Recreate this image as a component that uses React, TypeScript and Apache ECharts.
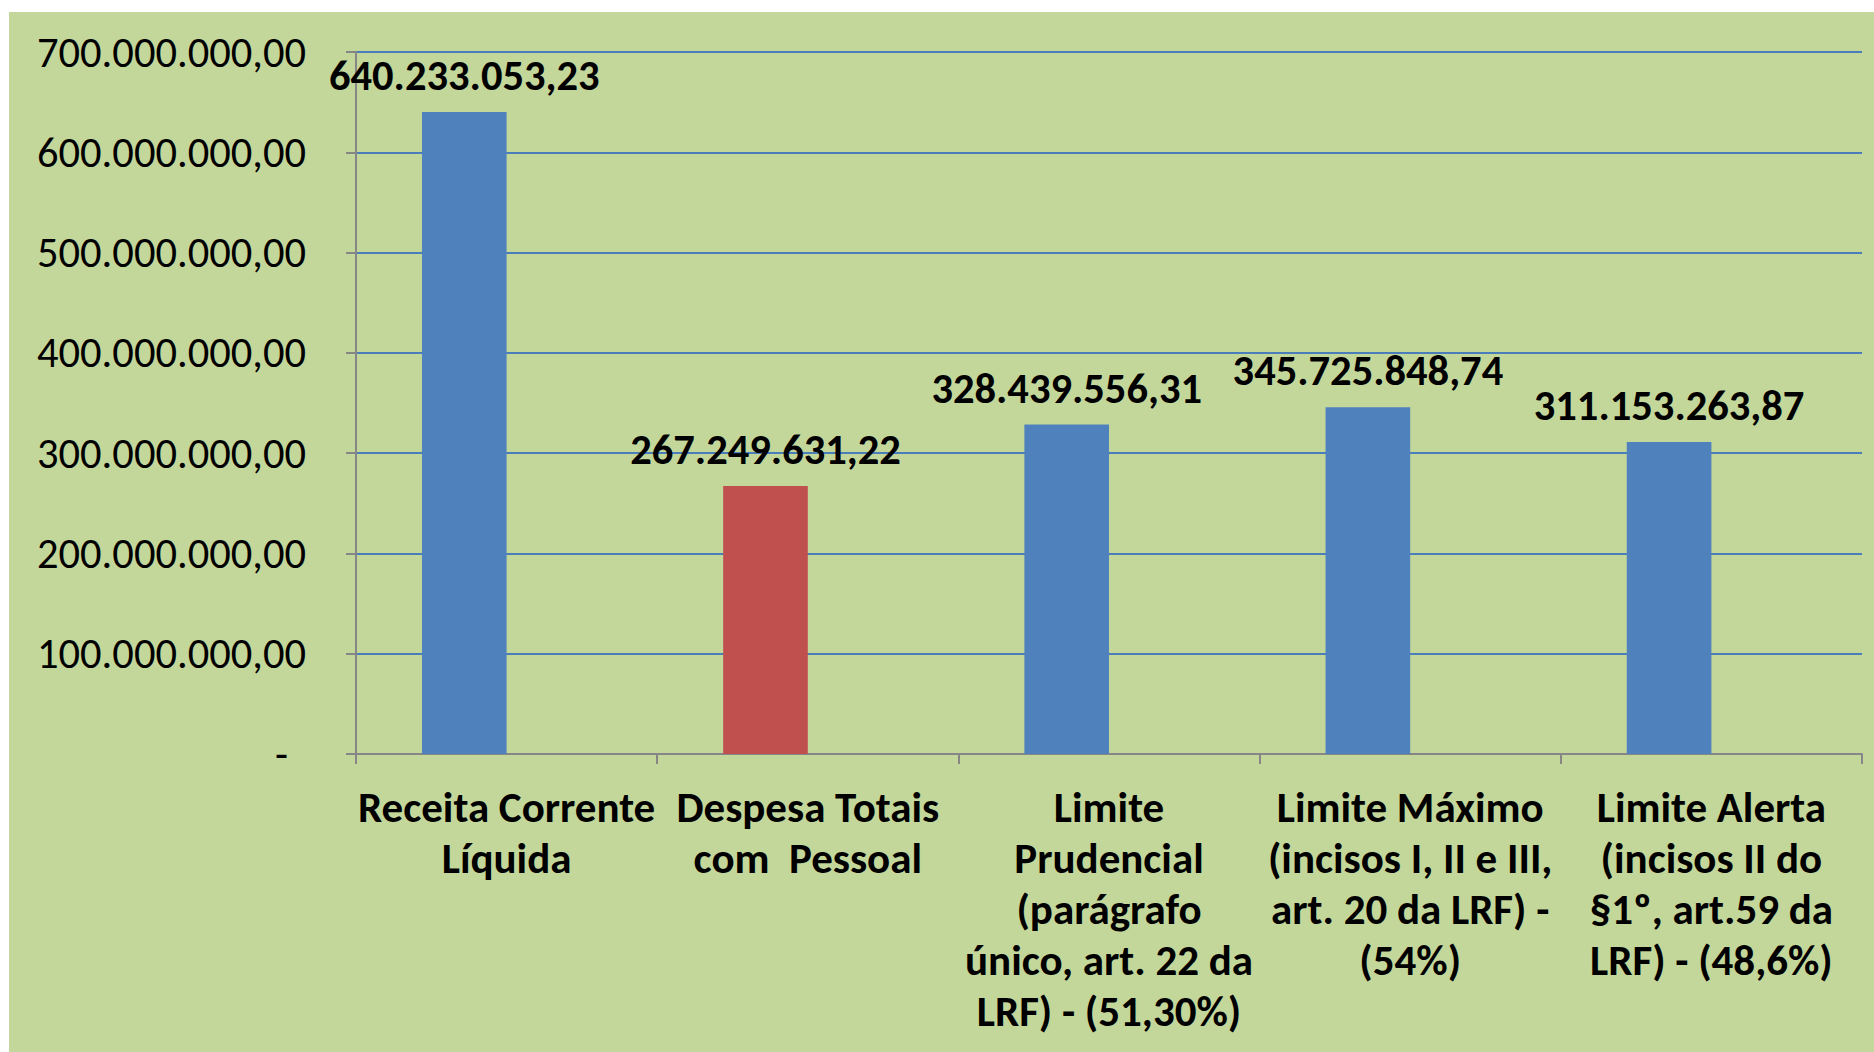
import React, { useEffect, useRef } from "react";
import * as echarts from "echarts";

const categories = [
  "Receita Corrente\nLíquida",
  "Despesa Totais\ncom  Pessoal",
  "Limite\nPrudencial\n(parágrafo\núnico, art. 22 da\nLRF) - (51,30%)",
  "Limite Máximo\n(incisos I, II e III,\nart. 20 da LRF) -\n(54%)",
  "Limite Alerta\n(incisos II do\n§1º, art.59 da\nLRF) - (48,6%)",
];
const values = [640233053.23, 267249631.22, 328439556.31, 345725848.74, 311153263.87];
const emptySeries = [null, null, null, null, null];
const barColors = ["#4F81BD", "#C0504D", "#4F81BD", "#4F81BD", "#4F81BD"];
const yMax = 700000000;
const yInterval = 100000000;

const FONT = "Carlito, 'Liberation Sans Narrow', 'DejaVu Sans Condensed', 'Open Sans', sans-serif";

function fmtBR(v: number): string {
  const [i, f] = Math.abs(v).toFixed(2).split(".");
  return i.replace(/\B(?=(\d{3})+(?!\d))/g, ".") + "," + f;
}

export default function App() {
  const ref = useRef<HTMLDivElement>(null);
  useEffect(() => {
    if (!ref.current) return;
    const chart = echarts.init(ref.current, undefined, { renderer: "svg" });
    chart.setOption({
      animation: false,
      backgroundColor: "#C4D79B",
      textStyle: { fontFamily: FONT },
      grid: { left: 347, right: 12, top: 40, bottom: 298, containLabel: false },
      xAxis: {
        type: "category",
        data: categories,
        axisLine: { lineStyle: { color: "#868686", width: 2 } },
        axisTick: { show: true, length: 10, lineStyle: { color: "#868686", width: 2 } },
        axisLabel: {
          interval: 0,
          margin: 28,
          color: "#000",
          fontWeight: "bold",
          fontSize: 43,
          lineHeight: 51,
          fontFamily: FONT,
        },
      },
      yAxis: {
        type: "value",
        min: 0,
        max: yMax,
        interval: yInterval,
        axisLine: { show: true, lineStyle: { color: "#868686", width: 2 } },
        axisTick: { show: true, length: 10, lineStyle: { color: "#868686", width: 2 } },
        splitLine: { show: true, lineStyle: { color: "#4A7EBB", width: 2 } },
        axisLabel: {
          margin: 50,
          color: "#000",
          fontSize: 42.5,
          fontFamily: FONT,
          formatter: (v: number) => (v === 0 ? "{d|-}" : fmtBR(v)),
          rich: { d: { fontSize: 42.5, color: "#000", padding: [0, 18, 0, 0], fontFamily: FONT } },
        },
      },
      series: [
        {
          type: "bar",
          data: values.map((v, i) => ({ value: v, itemStyle: { color: barColors[i] } })),
          barGap: "0%",
          barCategoryGap: "43.8%",
          label: {
            show: true,
            position: "top",
            distance: 15,
            color: "#000",
            fontWeight: "bold",
            fontSize: 42.5,
            fontFamily: FONT,
            formatter: (p: any) => fmtBR(p.value),
          },
        },
        {
          type: "bar",
          data: emptySeries,
          barGap: "0%",
          barCategoryGap: "43.8%",
        },
      ],
    });
    return () => chart.dispose();
  }, []);
  return (
    <div
      ref={ref}
      style={{ position: "fixed", left: 9, top: 12, width: 1865, height: 1040 }}
    />
  );
}
